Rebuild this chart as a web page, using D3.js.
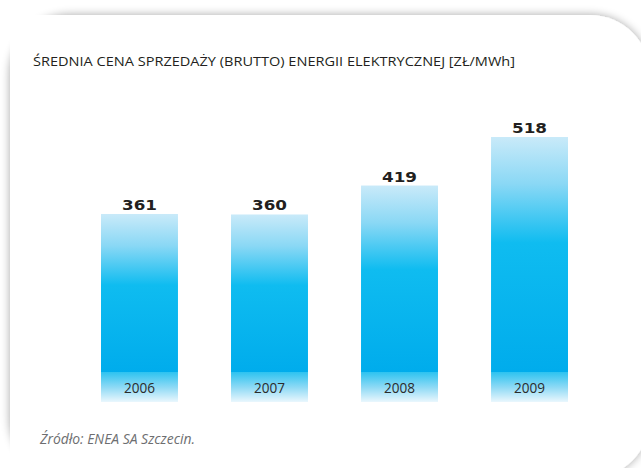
<!DOCTYPE html>
<html><head><meta charset="utf-8">
<script src="https://cdn.jsdelivr.net/npm/d3@7"></script>
<style>html,body{margin:0;padding:0;background:#fff;}svg{display:block;}</style>
</head><body>
<script>
const years = ["2006", "2007", "2008", "2009"];
const prices = [361, 360, 419, 518];
const title = "ŚREDNIA CENA SPRZEDAŻY (BRUTTO) ENERGII ELEKTRYCZNEJ [ZŁ/MWh]";
const source = "Źródło: ENEA SA Szczecin.";

const W = 641, H = 468;
const svg = d3.select("body").append("svg").attr("width", W).attr("height", H);
const defs = svg.append("defs");

const sh = defs.append("filter").attr("id", "shadow").attr("x", "-10%").attr("y", "-10%").attr("width", "130%").attr("height", "130%");
sh.append("feGaussianBlur").attr("in", "SourceAlpha").attr("stdDeviation", 5).attr("result", "b");
sh.append("feComponentTransfer").attr("in", "b").attr("result", "s")
  .append("feFuncA").attr("type", "linear").attr("slope", 0.35);
const m = sh.append("feMerge");
m.append("feMergeNode").attr("in", "s");
m.append("feMergeNode").attr("in", "SourceGraphic");

const gBar = defs.append("linearGradient").attr("id", "gBar").attr("x1", 0).attr("y1", 0).attr("x2", 0).attr("y2", 1);
[[0, "#c9eaf9"], [0.2, "#8ad8f5"], [0.45, "#0fbcf0"], [1, "#00acec"]].forEach(([o, c]) =>
  gBar.append("stop").attr("offset", o).attr("stop-color", c));
const gBand = defs.append("linearGradient").attr("id", "gBand").attr("x1", 0).attr("y1", 0).attr("x2", 0).attr("y2", 1);
[[0, "#2dc3f0"], [0.5, "#8cd9f5"], [1, "#eaf7fd"]].forEach(([o, c]) =>
  gBand.append("stop").attr("offset", o).attr("stop-color", c));

// card
svg.append("rect").attr("x", 10).attr("y", 15).attr("width", 640).attr("height", 463)
  .attr("rx", 60).attr("ry", 60).attr("fill", "#fff").attr("filter", "url(#shadow)");
svg.append("rect").attr("x", 10).attr("y", 15).attr("width", 100).attr("height", 463).attr("fill", "#fff");
svg.append("rect").attr("x", 10).attr("y", 15).attr("width", 560).attr("height", 100).attr("fill", "#fff");

svg.append("text").attr("x", 33).attr("y", 66).attr("font-family", "Open Sans").attr("font-size", 12)
  .attr("fill", "#231f20").attr("textLength", 482).attr("lengthAdjust", "spacingAndGlyphs").text(title);

const x = d3.scaleBand().domain(years).range([101, 568]).paddingInner(0.408).paddingOuter(0);
const y = d3.scaleLinear().domain([0, 518]).range([391, 137]);
const bottom = 402, bandTop = 372;

const g = svg.append("g");
g.selectAll("rect.bar").data(prices).join("rect").attr("class", "bar")
  .attr("x", (d, i) => x(years[i])).attr("width", x.bandwidth())
  .attr("y", d => y(d)).attr("height", d => bandTop - y(d)).attr("fill", "url(#gBar)");
g.selectAll("rect.band").data(years).join("rect").attr("class", "band")
  .attr("x", d => x(d)).attr("width", x.bandwidth())
  .attr("y", bandTop).attr("height", bottom - bandTop).attr("fill", "url(#gBand)");
g.selectAll("text.val").data(prices).join("text").attr("class", "val")
  .attr("x", (d, i) => x(years[i]) + x.bandwidth() / 2).attr("y", d => y(d) - 4)
  .attr("text-anchor", "middle").attr("font-family", "DejaVu Sans").attr("font-weight", "bold")
  .attr("font-size", 14).attr("fill", "#231f20")
  .attr("textLength", 35).attr("lengthAdjust", "spacingAndGlyphs").text(d => d);
g.selectAll("text.yr").data(years).join("text").attr("class", "yr")
  .attr("x", d => x(d) + x.bandwidth() / 2).attr("y", 393)
  .attr("text-anchor", "middle").attr("font-family", "Open Sans").attr("font-size", 14)
  .attr("fill", "#2b2b2b").attr("textLength", 31).attr("lengthAdjust", "spacingAndGlyphs").text(d => d);

svg.append("text").attr("x", 40).attr("y", 444).attr("font-family", "Open Sans").attr("font-style", "italic")
  .attr("font-size", 14).attr("fill", "#6d6e70").attr("textLength", 155).attr("lengthAdjust", "spacingAndGlyphs").text(source);
</script>
</body></html>
